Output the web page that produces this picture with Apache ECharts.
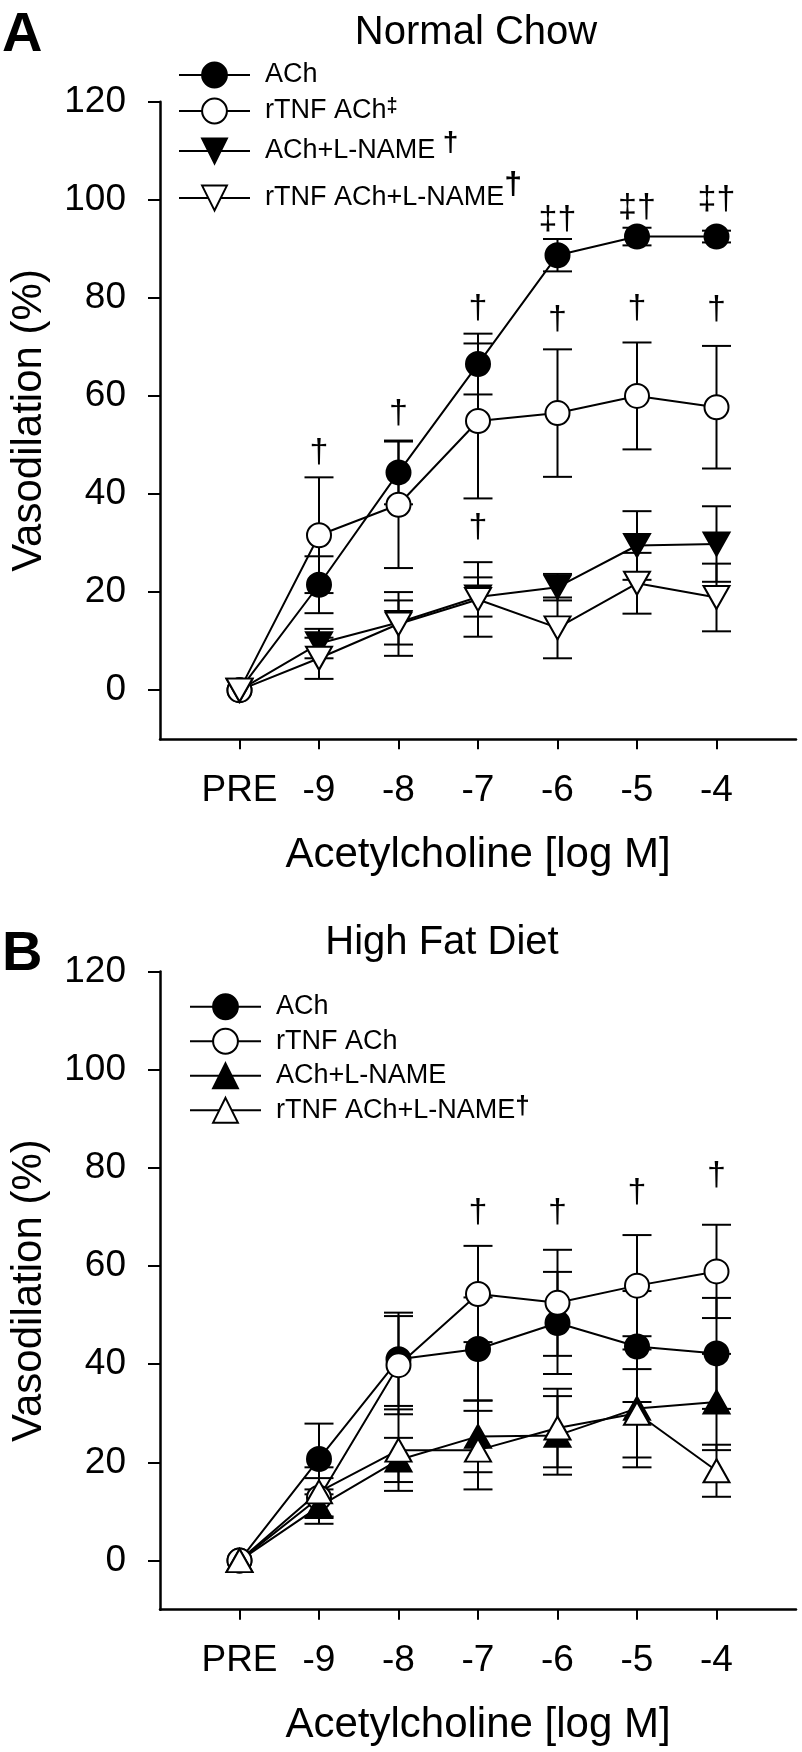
<!DOCTYPE html>
<html><head><meta charset="utf-8">
<script src="https://cdn.jsdelivr.net/npm/echarts@6/dist/echarts.min.js"></script>
<style>html,body{margin:0;padding:0;background:#fff}#c{width:802px;height:1752px}</style>
</head><body><div id="c"></div>
<script>
const FONT = 'Liberation Sans, Arial, Helvetica, sans-serif';
const categories = ['PRE','-9','-8','-7','-6','-5','-4'];
const xPositions = [0,1,2,3,4,5,6];
const yTickValues = [0,20,40,60,80,100,120];

// Panel A: Normal Chow
const a_ach      = [0,21.5,44.4,66.5,88.7,92.5,92.5];
const a_ach_se   = [0,5.8,6.5,6.2,3.3,1.8,1.2];
const a_rtnf     = [0,31.6,37.8,54.9,56.5,60.0,57.7];
const a_rtnf_se  = [0,11.8,12.9,15.8,13.0,10.9,12.5];
const a_achln    = [0,9.5,13.8,19.0,21.0,29.5,29.8];
const a_achln_se = [0,3.0,4.5,4.0,2.7,7.0,7.7];
const a_rtnfln   = [0,6.5,13.5,18.5,12.7,21.8,18.9];
const a_rtnfln_se= [0,4.2,6.5,7.6,6.2,6.2,6.9];

// Panel B: High Fat Diet
const b_ach      = [0,20.7,41.0,43.1,48.4,43.6,42.2];
const b_ach_se   = [0,7.2,9.5,10.5,10.4,11.3,11.3];
const b_rtnf     = [0,12.8,39.8,54.3,52.5,56.0,58.9];
const b_rtnf_se  = [0,4.0,10.0,9.8,10.8,10.3,9.5];
const b_achln    = [0,11.0,20.5,25.3,25.5,31.0,32.3];
const b_achln_se = [0,3.5,4.5,7.3,8.0,12.0,9.8];
const b_rtnfln   = [0,14.0,22.5,22.5,27.0,30.0,18.3];
const b_rtnfln_se= [0,5.0,8.3,8.0,8.0,9.0,5.3];

// significance marks
const a_sig_upper_text = ['', '†', '†', '†', '‡†', '‡†', '‡†'];
const a_sig_upper_y    = [null, 48.4, 56.4, 77.8, 96.0, 98.5, 100.0];
const a_sig_lower_text = ['', '', '', '†', '†', '†', '†'];
const a_sig_lower_y    = [null, null, null, 33.1, 75.6, 77.8, 77.5];
const b_sig_text = ['', '', '', '†', '†', '†', '†'];
const b_sig_y    = [null, null, null, 70.9, 70.9, 74.9, 78.5];

const chart = echarts.init(document.getElementById('c'), null, {renderer:'canvas'});

function lineSeries(name, vals, gi, symbol, size, fill, rotate) {
  return {type:'line', name, xAxisIndex:gi, yAxisIndex:gi,
    data: vals.map((v,i)=>[xPositions[i], v]),
    symbol, symbolSize:size, symbolRotate: rotate||0, showSymbol:true,
    lineStyle:{color:'#000', width:2},
    itemStyle:{color:fill, borderColor:'#000', borderWidth:2, opacity:1},
    emphasis:{disabled:true}, z:3, animation:false, silent:true};
}
function renderErr(params, api) {
  const x = api.value(0), m = api.value(1), s = api.value(2);
  if (!s) return null;
  const t = api.coord([x, m+s]), b = api.coord([x, m-s]);
  const hw = 14.5, st = {stroke:'#000', lineWidth:2};
  return {type:'group', children:[
    {type:'line', shape:{x1:t[0],y1:t[1],x2:b[0],y2:b[1]}, style:st},
    {type:'line', shape:{x1:t[0]-hw,y1:t[1],x2:t[0]+hw,y2:t[1]}, style:st},
    {type:'line', shape:{x1:b[0]-hw,y1:b[1],x2:b[0]+hw,y2:b[1]}, style:st}
  ]};
}
function errSeries(vals, se, gi) {
  return {type:'custom', xAxisIndex:gi, yAxisIndex:gi, silent:true, animation:false, z:1,
    data: vals.map((v,i)=>[xPositions[i], v, se[i]]), renderItem: renderErr};
}
function sigSeries(texts, ys, gi) {
  const data = [];
  texts.forEach((t,i)=>{ if (t) data.push([xPositions[i], ys[i], i]); });
  return {type:'custom', xAxisIndex:gi, yAxisIndex:gi, silent:true, animation:false, z:4, data,
    renderItem:(p, api)=>{
      const c = api.coord([api.value(0), api.value(1)]);
      const t = texts[api.value(2)];
      return {type:'text', x:c[0], y:c[1], style:{text:t, fontSize:34, fontFamily:FONT, fill:'#000',
        align:'center', verticalAlign:'middle', textAlign:'center', textVerticalAlign:'middle'}};
    }};
}
function xAxisCfg(gi) {
  return {type:'value', gridIndex:gi, min:-1, max:7, interval:1,
    axisLine:{show:true, onZero:false, lineStyle:{color:'#000', width:2.5}},
    axisTick:{show:true, inside:false, length:10, customValues:xPositions, lineStyle:{color:'#000', width:2}},
    axisLabel:{customValues:xPositions, formatter:(v)=>categories[Math.round(v)] ?? '', fontSize:37, fontFamily:FONT, color:'#000', margin:33},
    splitLine:{show:false},
    name:'Acetylcholine [log M]', nameLocation:'middle', nameGap:95,
    nameTextStyle:{fontSize:42, fontFamily:FONT, color:'#000'}};
}
function yAxisCfg(gi) {
  return {type:'value', gridIndex:gi, min:-10, max:120, interval:10,
    axisLine:{show:true, onZero:false, lineStyle:{color:'#000', width:2.5}},
    axisTick:{show:true, inside:false, length:12, customValues:yTickValues, lineStyle:{color:'#000', width:2}},
    axisLabel:{customValues:yTickValues, fontSize:37, fontFamily:FONT, color:'#000', margin:34},
    splitLine:{show:false},
    name:'Vasodilation (%)', nameLocation:'middle', nameGap:110,
    nameTextStyle:{fontSize:42, fontFamily:FONT, color:'#000'}};
}
function legendCfg(ids, labels, left, top, lh, rich) {
  const map = {}; ids.forEach((id,i)=>map[id]=labels[i]);
  return {orient:'vertical', left, top, itemWidth:71, itemHeight:31, itemGap:0,
    data: ids, selectedMode:false, formatter:(n)=>map[n],
    textStyle:{fontSize:27, fontFamily:FONT, color:'#000', lineHeight:lh, padding:[0,0,0,10], rich}};
}
const richA = {
  s1:{fontSize:20, fontWeight:'bold', fontFamily:FONT, color:'#000', padding:[0,0,10,0]},
  s2:{fontSize:28, fontWeight:'bold', fontFamily:FONT, color:'#000', padding:[0,0,16,0]},
  s3:{fontSize:32, fontWeight:'bold', fontFamily:FONT, color:'#000', padding:[0,0,26,0]}
};
const richB = {
  s4:{fontSize:26, fontWeight:'bold', fontFamily:FONT, color:'#000', padding:[0,0,6,0]}
};

const option = {
  backgroundColor:'#fff',
  animation:false,
  grid:[
    {left:158, top:101.7, width:638, height:637.5},
    {left:158, top:971.4, width:638, height:638.3}
  ],
  xAxis:[xAxisCfg(0), xAxisCfg(1)],
  yAxis:[yAxisCfg(0), yAxisCfg(1)],
  legend:[
    legendCfg(['A:ACh','A:rTNF ACh','A:ACh+L-NAME','A:rTNF ACh+L-NAME'],
      ['ACh','rTNF ACh{s1|‡}','ACh+L-NAME {s2|†}','rTNF ACh+L-NAME{s3|†}'], 173, 52, 36, richA),
    legendCfg(['B:ACh','B:rTNF ACh','B:ACh+L-NAME','B:rTNF ACh+L-NAME'],
      ['ACh','rTNF ACh','ACh+L-NAME','rTNF ACh+L-NAME{s4|†}'], 184, 984.5, 34.5, richB)
  ],
  graphic:[
    {type:'text', x:2, y:35.6, style:{text:'A', fontSize:56, fontWeight:'bold', fontFamily:FONT, fill:'#000', align:'left', verticalAlign:'middle', textAlign:'left', textVerticalAlign:'middle'}},
    {type:'text', x:476, y:32.6, style:{text:'Normal Chow', fontSize:40, fontFamily:FONT, fill:'#000', align:'center', verticalAlign:'middle', textAlign:'center', textVerticalAlign:'middle'}},
    {type:'text', x:2, y:955, style:{text:'B', fontSize:56, fontWeight:'bold', fontFamily:FONT, fill:'#000', align:'left', verticalAlign:'middle', textAlign:'left', textVerticalAlign:'middle'}},
    {type:'text', x:442, y:942.6, style:{text:'High Fat Diet', fontSize:40, fontFamily:FONT, fill:'#000', align:'center', verticalAlign:'middle', textAlign:'center', textVerticalAlign:'middle'}}
  ],
  series:[
    errSeries(a_ach, a_ach_se, 0), errSeries(a_rtnf, a_rtnf_se, 0),
    errSeries(a_achln, a_achln_se, 0), errSeries(a_rtnfln, a_rtnfln_se, 0),
    lineSeries('A:ACh', a_ach, 0, 'circle', 24, '#000'),
    lineSeries('A:rTNF ACh', a_rtnf, 0, 'circle', 24, '#fff'),
    lineSeries('A:ACh+L-NAME', a_achln, 0, 'triangle', [26,23], '#000', 180),
    lineSeries('A:rTNF ACh+L-NAME', a_rtnfln, 0, 'triangle', [26,23], '#fff', 180),
    sigSeries(a_sig_upper_text, a_sig_upper_y, 0),
    sigSeries(a_sig_lower_text, a_sig_lower_y, 0),
    errSeries(b_ach, b_ach_se, 1), errSeries(b_rtnf, b_rtnf_se, 1),
    errSeries(b_achln, b_achln_se, 1), errSeries(b_rtnfln, b_rtnfln_se, 1),
    lineSeries('B:ACh', b_ach, 1, 'circle', 24, '#000'),
    lineSeries('B:rTNF ACh', b_rtnf, 1, 'circle', 24, '#fff'),
    lineSeries('B:ACh+L-NAME', b_achln, 1, 'triangle', [26,23], '#000'),
    lineSeries('B:rTNF ACh+L-NAME', b_rtnfln, 1, 'triangle', [26,23], '#fff'),
    sigSeries(b_sig_text, b_sig_y, 1)
  ]
};
chart.setOption(option);
</script></body></html>
